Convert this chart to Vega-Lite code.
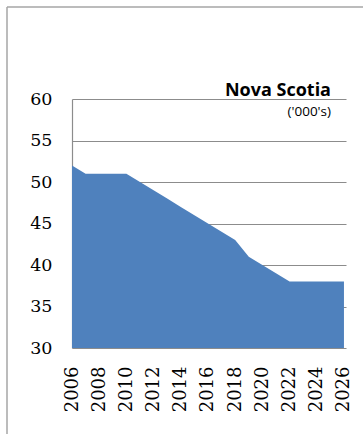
{
  "$schema": "https://vega.github.io/schema/vega-lite/v6.json",
  "width": 356,
  "height": 427,
  "autosize": {"type": "none"},
  "padding": {"left": 7, "top": 7, "right": 0, "bottom": 0},
  "background": "white",
  "title": {
    "text": "Nova Scotia",
    "subtitle": "('000's)",
    "anchor": "end",
    "frame": "group",
    "orient": "top",
    "offset": -111,
    "dx": -32,
    "font": "Open Sans",
    "fontSize": 18,
    "fontWeight": "bold",
    "color": "black",
    "subtitleFont": "Open Sans",
    "subtitleFontSize": 13.5,
    "subtitleColor": "black",
    "subtitlePadding": 5
  },
  "data": {
    "values": [
      {"year": 2006, "value": 52},
      {"year": 2007, "value": 51},
      {"year": 2008, "value": 51},
      {"year": 2009, "value": 51},
      {"year": 2010, "value": 51},
      {"year": 2011, "value": 50},
      {"year": 2012, "value": 49},
      {"year": 2013, "value": 48},
      {"year": 2014, "value": 47},
      {"year": 2015, "value": 46},
      {"year": 2016, "value": 45},
      {"year": 2017, "value": 44},
      {"year": 2018, "value": 43},
      {"year": 2019, "value": 41},
      {"year": 2020, "value": 40},
      {"year": 2021, "value": 39},
      {"year": 2022, "value": 38},
      {"year": 2023, "value": 38},
      {"year": 2024, "value": 38},
      {"year": 2025, "value": 38},
      {"year": 2026, "value": 38}
    ]
  },
  "mark": {"type": "area", "color": "#4F81BD", "interpolate": "linear"},
  "encoding": {
    "x": {
      "field": "year",
      "type": "quantitative",
      "scale": {"domain": [2006, 2026.15], "range": [65, 339], "nice": false, "zero": false},
      "axis": {
        "title": null,
        "offset": -86,
        "values": [2006, 2008, 2010, 2012, 2014, 2016, 2018, 2020, 2022, 2024, 2026],
        "format": "d",
        "labelAngle": -90,
        "labelFont": "DejaVu Serif",
        "labelFontSize": 18,
        "labelColor": "black",
        "labelPadding": 18,
        "ticks": false,
        "tickSize": 0,
        "domain": false,
        "grid": false,
        "labelOverlap": false,
        "labelFlush": false
      }
    },
    "y": {
      "field": "value",
      "type": "quantitative",
      "scale": {"domain": [30, 60], "range": [341, 92], "nice": false, "zero": false},
      "axis": {
        "title": null,
        "offset": -65,
        "values": [30, 35, 40, 45, 50, 55, 60],
        "labelFont": "DejaVu Serif",
        "labelFontSize": 17.5,
        "labelColor": "black",
        "labelPadding": 20,
        "ticks": false,
        "tickSize": 0,
        "domain": true,
        "domainColor": "#8c8c8c",
        "domainWidth": 1.2,
        "grid": true,
        "gridColor": "#8c8c8c",
        "gridWidth": 1.2,
        "labelFlush": false
      }
    },
    "y2": {"datum": 30}
  },
  "config": {
    "view": {
      "stroke": "#a6a6a6",
      "strokeWidth": 1.5,
      "strokeDash": [356, 783, 427, 0]
    }
  }
}
